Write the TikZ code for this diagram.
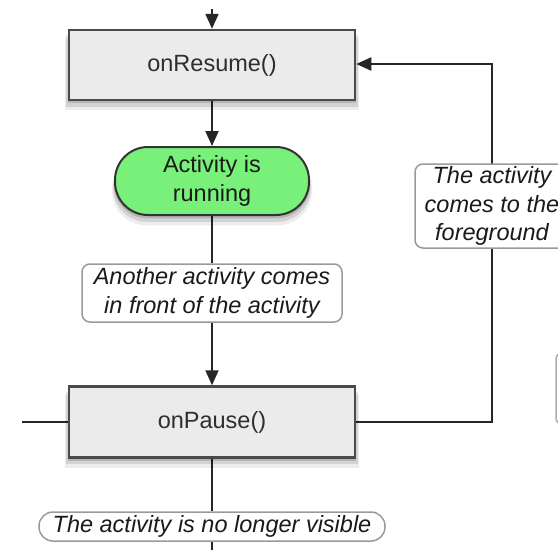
\documentclass[tikz,border=0pt]{standalone}
\usepackage{fontspec}
\setmainfont{Liberation Sans}
\usetikzlibrary{shadows,arrows.meta}
\pgfdeclarelayer{background}
\pgfsetlayers{background,main}
\definecolor{boxfill}{HTML}{EBEBEB}
\definecolor{boxline}{HTML}{4A4A4A}
\definecolor{runfill}{HTML}{78F07A}
\definecolor{lblline}{HTML}{9A9A9A}
\definecolor{ink}{HTML}{1A1A1A}
\definecolor{boxink}{HTML}{2E2E2E}
\tikzset{
  softshadow/.style={
    general shadow={fill=black,opacity=.14,shadow yshift=-3pt,shadow scale=1.01},
    general shadow={fill=black,opacity=.11,shadow yshift=-6pt,shadow scale=1.02},
    general shadow={fill=black,opacity=.07,shadow yshift=-9pt,shadow scale=1.03}},
  basefont/.style={font=\fontsize{23.5pt}{28.5pt}\selectfont, align=center},
  methodbox/.style={basefont, draw=boxline, line width=2.5pt, fill=boxfill,
    minimum width=286pt, minimum height=70pt, inner sep=0pt, text=boxink, softshadow},
  runbox/.style={basefont, draw=black!80, line width=2pt, fill=runfill,
    rounded corners=33pt, minimum width=194pt, minimum height=68pt, inner sep=0pt,
    text=ink, softshadow},
  lblbox/.style={basefont, font=\fontsize{23.5pt}{28.5pt}\selectfont\itshape,
    draw=lblline, line width=1.5pt, fill=white, rounded corners=8pt, inner sep=0pt, text=ink},
  partbox/.style={draw=lblline!80, line width=1.5pt, fill=white, rounded corners=4pt},
  conn/.style={draw=black!85, line width=2pt},
  arr/.style={conn, -{Triangle[length=15pt,width=13pt]}}
}
\begin{document}
\begin{tikzpicture}[x=1pt,y=-1pt]
\useasboundingbox (0,0) rectangle (558,550);
\clip (0,0) rectangle (558,550);
\node[methodbox] (resume) at (212,65) {onResume()};
\node[runbox] (running) at (212,181) {Activity is\\running};
\node[lblbox, minimum width=260pt, minimum height=58pt] (another) at (212,293) {Another activity comes\\in front of the activity};
\node[methodbox, minimum height=71pt] (pause) at (212,422) {onPause()};
\node[lblbox, minimum width=154pt, minimum height=84pt] (fore) at (492,206) {The activity\\comes to the\\foreground};
\node[lblbox, rounded corners=14pt, minimum width=346pt, minimum height=29pt] (visible) at (212,526.5) {The activity is no longer visible};
\node[partbox, minimum width=60pt, minimum height=69pt] (part) at (586,388.5) {};
\coordinate (topin) at (212,9);
\coordinate (leftout) at (22,422);
\coordinate (loopA) at (492,422);
\coordinate (loopB) at (492,64);
\coordinate (botout) at (212,550);
\begin{pgfonlayer}{background}
\draw[arr] (topin) -- (resume.north);
\draw[arr] (resume.south) -- (running.north);
\draw[conn] (running.south) -- (another.north);
\draw[arr] (another.south) -- (pause.north);
\draw[conn] (pause.west) -- (leftout);
\draw[arr] (pause.east) -- (loopA) -- (loopB) -- (loopB -| resume.east);
\draw[conn] (pause.south) -- (visible.north);
\draw[conn] (visible.south) -- (botout);
\end{pgfonlayer}
\end{tikzpicture}
\end{document}
